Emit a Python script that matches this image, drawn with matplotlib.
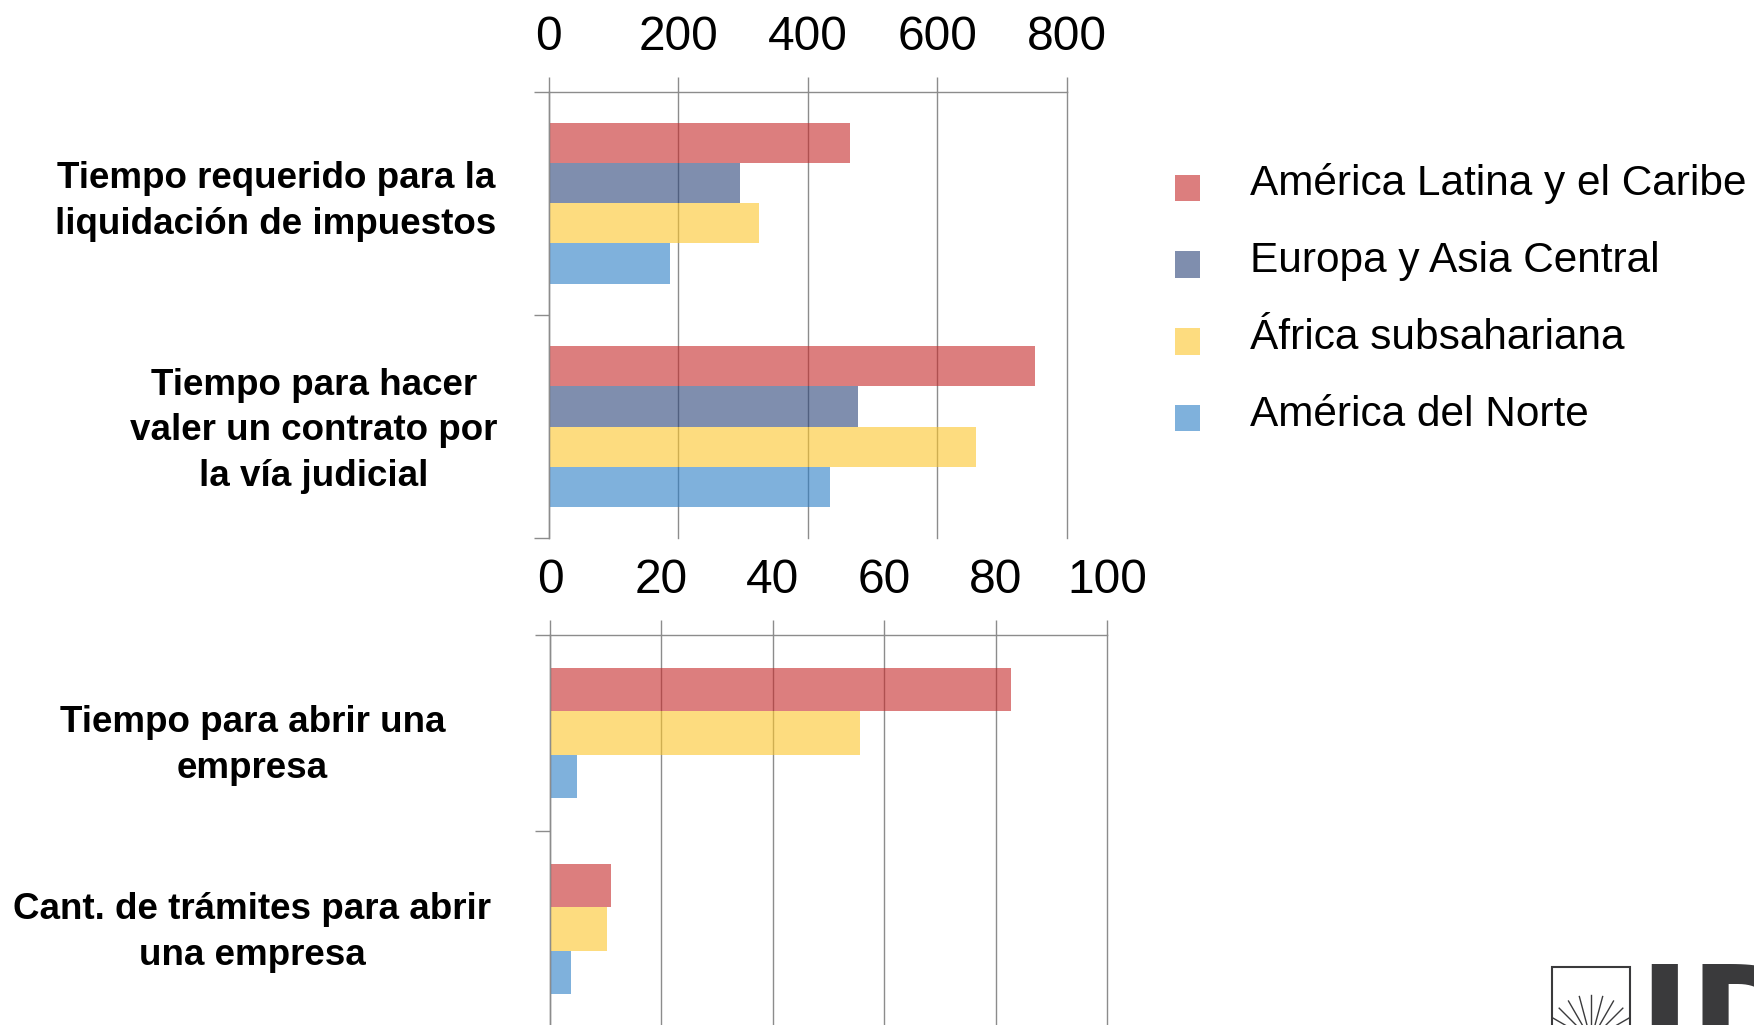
import matplotlib
matplotlib.use('Agg')
import matplotlib.pyplot as plt
from matplotlib.patches import Patch, Rectangle
from matplotlib.legend_handler import HandlerPatch
import numpy as np

plt.rcParams['font.family'] = ['Liberation Sans', 'DejaVu Sans']

W, H = 1754, 1025

series = ['América Latina y el Caribe', 'Europa y Asia Central',
          'África subsahariana', 'América del Norte']
colors = ['#c62828', '#2a4378', '#fdc62a', '#2a7dc5']
alpha = 0.6
gridc = '#8c8c8c'

# upper panel (days)
top_cats = ['Tiempo requerido para la\nliquidación de impuestos',
            'Tiempo para hacer\nvaler un contrato por\nla vía judicial']
latam_top = [465, 751]
eca_top = [295, 477]
ssa_top = [325, 660]
nam_top = [188, 434]

# lower panel (days / count)
bot_cats = ['Tiempo para abrir una\nempresa',
            'Cant. de trámites para abrir\nuna empresa']
latam_bot = [82.7, 10.9]
ssa_bot = [55.7, 10.2]
nam_bot = [4.8, 3.8]


def px(x, y):
    # pixel (from top-left) -> figure fraction
    return x / W, 1 - y / H


def style(ax, xmax, step):
    ax.set_xlim(0, xmax)
    ax.set_ylim(2, 0)
    ax.xaxis.tick_top()
    ax.set_xticks(np.arange(0, xmax + 1, step))
    ax.set_yticks([0, 1, 2])
    ax.set_yticklabels([])
    ax.grid(axis='x', color=gridc, lw=1.0)
    for gl in ax.get_xgridlines():
        gl.set_clip_on(False)
    ax.set_axisbelow(True)
    ax.tick_params(axis='x', length=11, width=1.0, color=gridc,
                   labelsize=34.5, pad=12)
    ax.tick_params(axis='y', length=11, width=1.0, color=gridc)
    for s in ['right', 'bottom']:
        ax.spines[s].set_visible(False)
    for s in ['top', 'left']:
        ax.spines[s].set_color(gridc)
        ax.spines[s].set_linewidth(1.0)


fig = plt.figure(figsize=(W / 100, H / 100), dpi=100)

ax1 = fig.add_axes([548.5 / W, 1 - 538.1 / H, 518.5 / W, 446.4 / H])
style(ax1, 800, 200)
y = np.arange(len(top_cats)) + 0.5
h = 0.18
for k, (vals, c) in enumerate(zip([latam_top, eca_top, ssa_top, nam_top], colors)):
    ax1.barh(y + (k - 1.5) * h, vals, height=h, color=c, alpha=alpha, lw=0)

ax2 = fig.add_axes([550 / W, 1 - 1027 / H, 557.3 / W, 392 / H])
style(ax2, 100, 20)
y = np.arange(len(bot_cats)) + 0.5
h = 0.222
for k, (vals, c) in enumerate(zip([latam_bot, ssa_bot, nam_bot],
                                  [colors[0], colors[2], colors[3]])):
    ax2.barh(y + (k - 1) * h, vals, height=h, color=c, alpha=alpha, lw=0)

# category labels
label_pos = [(276, 201.5), (314, 431), (252.5, 745.5), (252, 932.5)]
for txt, (lx, ly) in zip(top_cats + bot_cats, label_pos):
    fx, fy = px(lx, ly)
    fig.text(fx, fy, txt, ha='center', va='center', multialignment='center',
             fontsize=26.5, fontweight='bold', linespacing=1.38)


def low_square(legend, orig_handle, xdescent, ydescent, width, height, fontsize):
    return Rectangle((-xdescent, -ydescent - 5.5), width, height)


handles = [Patch(facecolor=c, alpha=alpha, lw=0) for c in colors]
fig.legend(handles, series, loc='upper left', bbox_to_anchor=px(1175, 163),
           frameon=False, fontsize=30.5, handlelength=0.58, handleheight=0.58,
           handletextpad=1.2, labelspacing=0.87, borderpad=0, borderaxespad=0,
           handler_map={Patch: HandlerPatch(patch_func=low_square)})

# logo (cut off at the corner)
fig.add_artist(Rectangle(px(1552, 1030), 78 / W, 63 / H, transform=fig.transFigure,
                         facecolor='white', edgecolor='#3a3a3c', lw=1.5))
for a in np.linspace(-60, 60, 9):
    t = np.deg2rad(a)
    x0, y0 = 1591, 1040
    fig.add_artist(plt.Line2D([x0 / W, (x0 + 45 * np.sin(t)) / W],
                              [1 - y0 / H, 1 - (y0 - 45 * np.cos(t)) / H],
                              transform=fig.transFigure, color='#3a3a3c', lw=1.0))
fig.text(*px(1638, 1066), 'IDB', fontsize=100, fontweight='bold',
         family='DejaVu Sans', color='#3a3a3c', ha='left', va='baseline')

fig.savefig('out.png', dpi=100)
